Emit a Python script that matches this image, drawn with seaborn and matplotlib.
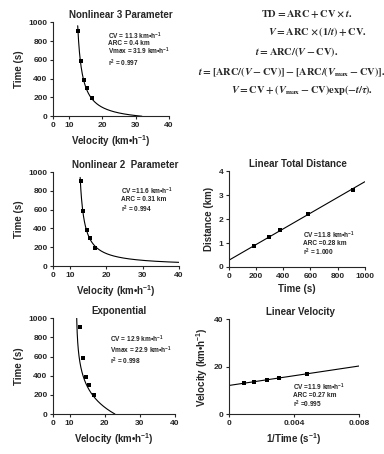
import matplotlib
matplotlib.use("Agg")
import matplotlib.pyplot as plt
import seaborn as sns
import numpy as np
import pandas as pd

# Data
time_s = [910, 590, 385, 300, 195]
velocity = [12.9, 13.7, 14.6, 15.4, 16.9]
td_time = [184, 295, 378, 585, 910]
td_distance = [0.88, 1.27, 1.53, 2.23, 3.23]
inv_time = [0.00095, 0.00155, 0.00235, 0.0031, 0.0048]
lv_velocity = [12.9, 13.7, 14.5, 15.3, 16.9]

# fitted parameters shown on the panels (exp panel curve)
nl3_cv, nl3_arc, nl3_vmax = 11.3, 0.4, 31.9
nl2_cv, nl2_arc = 11.6, 0.31
exp_asym, exp_vmax, exp_tau = 11.9, 22.9, 230
td_cv, td_arc = 11.8, 0.28

equations = [
    r"$\mathrm{TD} = \mathrm{ARC} + \mathrm{CV} \times t.$",
    r"$V = \mathrm{ARC} \times (1/t) + \mathrm{CV}.$",
    r"$t = \mathrm{ARC}/(V - \mathrm{CV}).$",
    r"$t = [\mathrm{ARC}/(V - \mathrm{CV})] - [\mathrm{ARC}/(V_{\mathrm{max}} - \mathrm{CV})].$",
    r"$V = \mathrm{CV} + (V_{\mathrm{max}} - \mathrm{CV})\mathrm{exp}(-t/\tau).$",
]

sns.set_style("ticks")
plt.rcParams["font.family"] = ["Liberation Sans", "DejaVu Sans"]
plt.rcParams["font.weight"] = "bold"
plt.rcParams["mathtext.fontset"] = "custom"
plt.rcParams["mathtext.rm"] = "Liberation Sans:bold"
plt.rcParams["mathtext.bf"] = "Liberation Sans:bold"
plt.rcParams["axes.linewidth"] = 0.8

fig = plt.figure(figsize=(3.84, 4.54), dpi=100)

ax1 = fig.add_axes([0.138, 0.744, 0.302, 0.207])
ax3 = fig.add_axes([0.138, 0.414, 0.328, 0.207])
ax5 = fig.add_axes([0.138, 0.088, 0.318, 0.211])
ax4 = fig.add_axes([0.596, 0.412, 0.354, 0.211])
ax6 = fig.add_axes([0.596, 0.088, 0.339, 0.209])

vel_label = "Velocity (km•h$^{-1}$)"
pts = pd.DataFrame({"velocity": velocity, "time": time_s})


def style(ax, title, tx):
    sns.despine(ax=ax)
    ax.tick_params(labelsize=6, length=2, width=0.8, pad=2)
    for lab in ax.get_xticklabels() + ax.get_yticklabels():
        lab.set_fontweight("bold")
    ax.set_title(title, fontsize=7, fontweight="bold", x=tx, pad=3)
    ax.xaxis.label.set_size(7)
    ax.yaxis.label.set_size(7)
    ax.xaxis.label.set_weight("bold")
    ax.yaxis.label.set_weight("bold")


def vel_axes(ax):
    ax.set_xlim(5.3, 40)
    ax.set_ylim(0, 1000)
    ax.set_xticks([5.3, 10, 20, 30, 40])
    ax.set_xticklabels(["0", "10", "20", "30", "40"])
    ax.set_yticks(range(0, 1001, 200))
    ax.set_xlabel(vel_label, labelpad=3)
    ax.set_ylabel("Time (s)", labelpad=3)


def notes(ax, lines, x, ys):
    for txt, yy in zip(lines, ys):
        ax.text(x, yy, txt, transform=ax.transAxes, fontsize=4.7,
                fontweight="bold", va="center")


# Nonlinear 3 parameter
v = np.linspace(12.5, nl3_vmax, 300)
t = (nl3_arc / (v - nl3_cv) - nl3_arc / (nl3_vmax - nl3_cv)) * 3600
ax1.plot(v[t <= 1000], t[t <= 1000], color="black", lw=0.8)
sns.scatterplot(data=pts, x="velocity", y="time", ax=ax1, marker="s", s=6,
                color="black", edgecolor="black", linewidth=0)
vel_axes(ax1)
style(ax1, "Nonlinear 3 Parameter", 0.586)
notes(ax1, ["CV = 11.3 km•h$^{-1}$", "ARC = 0.4 km",
            "Vmax = 31.9 km•h$^{-1}$", "r$^{2}$ = 0.997"],
      0.474, [0.855, 0.77, 0.685, 0.565])

# Nonlinear 2 parameter
v = np.linspace(12.6, 40, 300)
t = nl2_arc / (v - nl2_cv) * 3600
ax3.plot(v[t <= 1000], t[t <= 1000], color="black", lw=0.8)
sns.scatterplot(data=pts, x="velocity", y="time", ax=ax3, marker="s", s=6,
                color="black", edgecolor="black", linewidth=0)
vel_axes(ax3)
style(ax3, "Nonlinear 2  Parameter", 0.57)
notes(ax3, ["CV =11.6 km•h$^{-1}$", "ARC = 0.31 km", "r$^{2}$ = 0.994"],
      0.537, [0.80, 0.705, 0.60])

# Exponential
t = np.linspace(0, 1000, 300)
v = exp_asym + (exp_vmax - exp_asym) * np.exp(-t / exp_tau)
ax5.plot(v, t, color="black", lw=0.8)
sns.scatterplot(data=pts, x="velocity", y="time", ax=ax5, marker="s", s=6,
                color="black", edgecolor="black", linewidth=0)
vel_axes(ax5)
style(ax5, "Exponential", 0.54)
ax5.title.set_position((0.54, 0.97))
notes(ax5, ["CV = 12.9 km•h$^{-1}$", "Vmax = 22.9 km•h$^{-1}$",
            "r$^{2}$ = 0.998"],
      0.467, [0.775, 0.66, 0.552])

# Linear total distance
tt = np.array([0, 1000])
ax4.plot(tt, td_arc + td_cv * tt / 3600, color="black", lw=0.8)
sns.scatterplot(x=td_time, y=td_distance, ax=ax4, marker="s", s=6,
                color="black", edgecolor="black", linewidth=0)
ax4.set_xlim(0, 1000)
ax4.set_ylim(0, 4)
ax4.set_xticks(range(0, 1001, 200))
ax4.set_yticks(range(0, 5))
ax4.set_xlabel("Time (s)", labelpad=3)
ax4.set_ylabel("Distance (km)", labelpad=3)
style(ax4, "Linear Total Distance", 0.51)
notes(ax4, ["CV =11.8 km•h$^{-1}$", "ARC =0.28 km", "r$^{2}$ = 1.000"],
      0.546, [0.33, 0.245, 0.155])

# Linear velocity
slope, icpt = np.polyfit(inv_time, lv_velocity, 1)
xx = np.array([0, 0.008])
ax6.plot(xx, icpt + slope * xx, color="black", lw=0.8)
sns.scatterplot(x=inv_time, y=lv_velocity, ax=ax6, marker="s", s=6,
                color="black", edgecolor="black", linewidth=0)
ax6.set_xlim(0, 0.008)
ax6.set_ylim(0, 40)
ax6.set_xticks([0, 0.004, 0.008])
ax6.set_xticklabels(["0", "0.004", "0.008"])
ax6.set_yticks([0, 20, 40])
ax6.set_xlabel("1/Time (s$^{-1}$)", labelpad=3)
ax6.set_ylabel(vel_label, labelpad=3)
style(ax6, "Linear Velocity", 0.55)
ax6.title.set_position((0.55, 0.97))
notes(ax6, ["CV =11.9 km•h$^{-1}$", "ARC =0.27 km", "r$^{2}$ =0.995"],
      0.495, [0.28, 0.195, 0.105])

# equations, top right
for eq, xc, yc in zip(equations, [0.80, 0.826, 0.773, 0.758, 0.786],
                      [0.969, 0.930, 0.885, 0.841, 0.802]):
    fig.text(xc, yc, eq, fontsize=7.5, ha="center", va="center",
             fontweight="normal", math_fontfamily="stix")

fig.savefig("out.png", dpi=100, facecolor="white")
